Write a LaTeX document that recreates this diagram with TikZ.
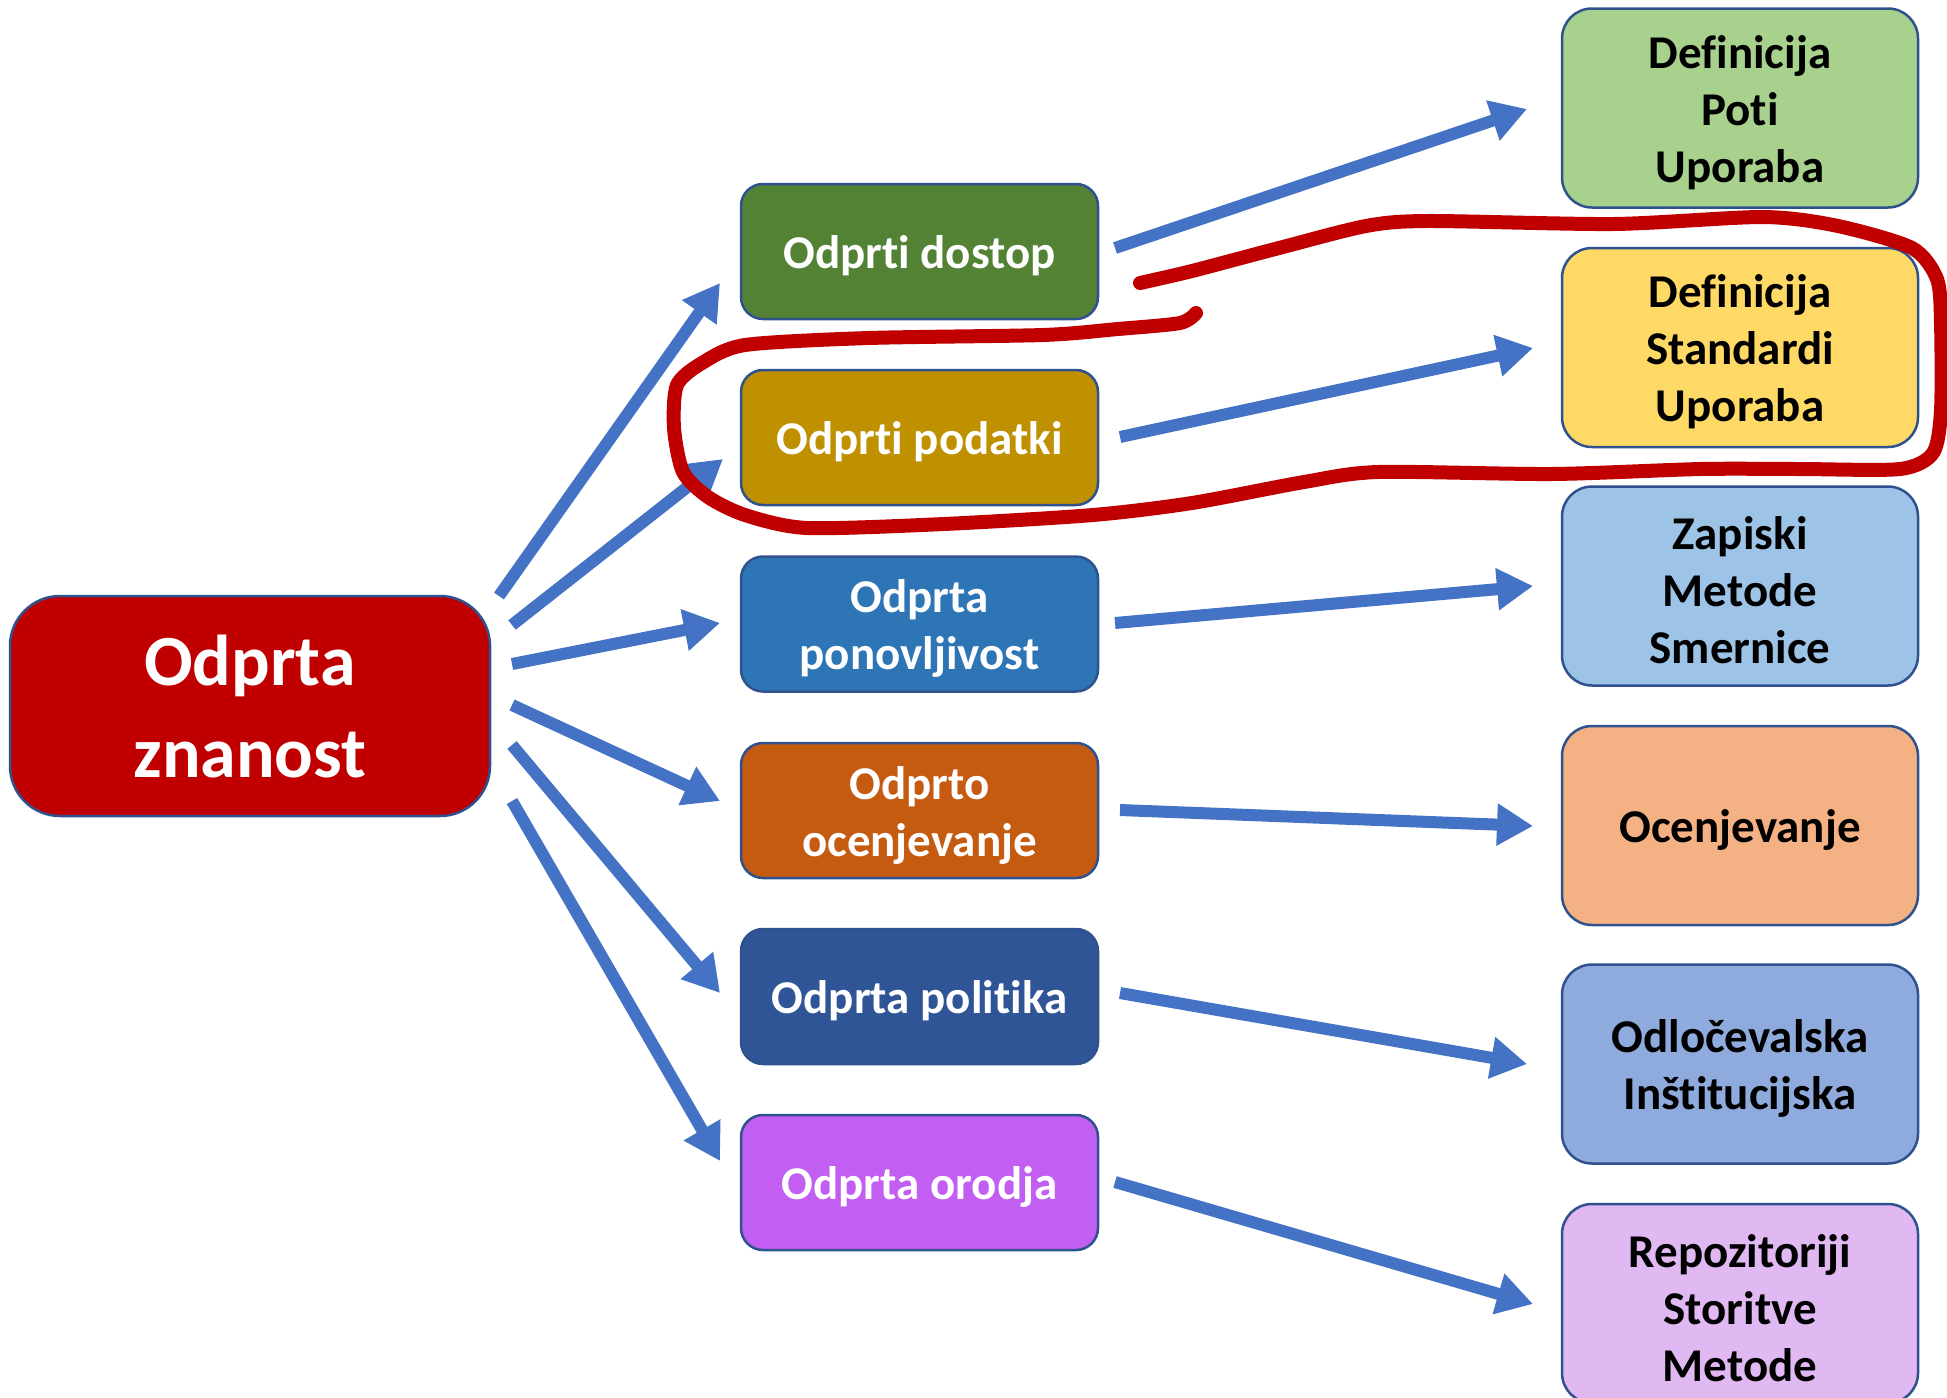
\documentclass[tikz,border=0pt]{standalone}
\usepackage{fontspec}
\setmainfont{Carlito}[Ligatures={NoCommon}]
\usetikzlibrary{arrows.meta}
\definecolor{bordc}{HTML}{2F528F}
\definecolor{arrc}{HTML}{4472C4}
\definecolor{loopc}{HTML}{C00000}
\definecolor{cmain}{HTML}{C00000}
\definecolor{cm1}{HTML}{548235}
\definecolor{cm2}{HTML}{BF9000}
\definecolor{cm3}{HTML}{2E75B6}
\definecolor{cm4}{HTML}{C55A11}
\definecolor{cm5}{HTML}{2F5597}
\definecolor{cm6}{HTML}{C25EF2}
\definecolor{cr1}{HTML}{A9D18E}
\definecolor{cr2}{HTML}{FFD966}
\definecolor{cr3}{HTML}{9DC3E6}
\definecolor{cr4}{HTML}{F4B183}
\definecolor{cr5}{HTML}{8FAADC}
\definecolor{cr6}{HTML}{E0B8F2}
\newcommand{\tstrut}{\rule{0pt}{0.9em}}
\begin{document}
\begin{tikzpicture}[x=0.5pt,y=-0.5pt,
  box/.style={draw=bordc, line width=1.25pt, rounded corners=11pt,
    minimum width=178.5pt, minimum height=67.5pt, inner sep=0pt, align=center,
    font=\bfseries\fontsize{23.5}{28.5}\selectfont},
  midbox/.style={box, text=white},
  rbox/.style={box, minimum width=178pt, minimum height=99.5pt, rounded corners=15pt, text=black},
  mainbox/.style={box, minimum width=240pt, minimum height=110pt, rounded corners=25pt, text=white,
    font=\bfseries\fontsize{36}{46}\selectfont},
  arr/.style={-{Triangle[length=18pt,width=20pt]}, line width=6pt, draw=arrc},
  redloop/.style={draw=loopc, line width=7pt, line cap=round, line join=round}]
\useasboundingbox (0,0) rectangle (1947,1397);

% main node
\node[mainbox, fill=cmain] (main) at (250,706) {Odprta\\znanost};

% middle nodes
\node[midbox, fill=cm1] (m1) at (919.5,251.5) {\tstrut Odprti dostop};
\node[midbox, fill=cm2] (m2) at (919.5,437.5) {\tstrut Odprti podatki};
\node[midbox, fill=cm3] (m3) at (919.5,624) {\tstrut Odprta\\ponovljivost};
\node[midbox, fill=cm4] (m4) at (919.5,810.5) {\tstrut Odprto\\ocenjevanje};
\node[midbox, fill=cm5] (m5) at (919.5,996.5) {\tstrut Odprta politika};
\node[midbox, fill=cm6] (m6) at (919.5,1182.5) {\tstrut Odprta orodja};

% right nodes
\node[rbox, fill=cr1] (r1) at (1740,108) {\tstrut Definicija\\Poti\\Uporaba};
\node[rbox, fill=cr2] (r2) at (1740,347.5) {\tstrut Definicija\\Standardi\\Uporaba};
\node[rbox, fill=cr3] (r3) at (1740,586) {\tstrut Zapiski\\Metode\\Smernice};
\node[rbox, fill=cr4] (r4) at (1740,825.5) {\tstrut Ocenjevanje};
\node[rbox, fill=cr5] (r5) at (1740,1064) {\tstrut Odločevalska\\Inštitucijska};
\node[rbox, fill=cr6] (r6) at (1740,1303.5) {\tstrut Repozitoriji\\Storitve\\Metode};

% arrow end points
\coordinate (l1s) at (499,596);  \coordinate (l1e) at (720,283);
\coordinate (l2s) at (512,625);  \coordinate (l2e) at (723,459);
\coordinate (l3s) at (512,664);  \coordinate (l3e) at (720,623);
\coordinate (l4s) at (512,705);  \coordinate (l4e) at (720,801);
\coordinate (l5s) at (512,745);  \coordinate (l5e) at (720,993);
\coordinate (l6s) at (512,801);  \coordinate (l6e) at (720,1161);

\coordinate (r1s) at (1115,248); \coordinate (r1e) at (1527,109);
\coordinate (r2s) at (1120,437); \coordinate (r2e) at (1533,348);
\coordinate (r3s) at (1115,623); \coordinate (r3e) at (1533,586);
\coordinate (r4s) at (1120,810); \coordinate (r4e) at (1533,826);
\coordinate (r5s) at (1120,993); \coordinate (r5e) at (1527,1064);
\coordinate (r6s) at (1115,1182); \coordinate (r6e) at (1533,1304);

\foreach \i in {1,...,6}{
  \draw[arr] (l\i s) -- (l\i e);
  \draw[arr] (r\i s) -- (r\i e);
}

% red freehand loop
\draw[redloop] plot[smooth, tension=0.45] coordinates {
 (1140,283) (1192,271) (1279,248) (1366,226) (1428,221) (1614,224) (1763,217)
 (1838,226) (1912,248) (1937,279) (1941,323) (1941,410) (1933,453) (1900,469)
 (1800,469) (1701,469) (1552,474) (1378,472) (1304,482) (1192,503) (1093,515)
 (944,524) (807,528) (745,515) (708,497) (683,472) (674,428) (677,385)
 (702,363) (745,345) (869,338) (1043,335) (1118,329) (1180,323) (1196,313)};
\end{tikzpicture}
\end{document}
